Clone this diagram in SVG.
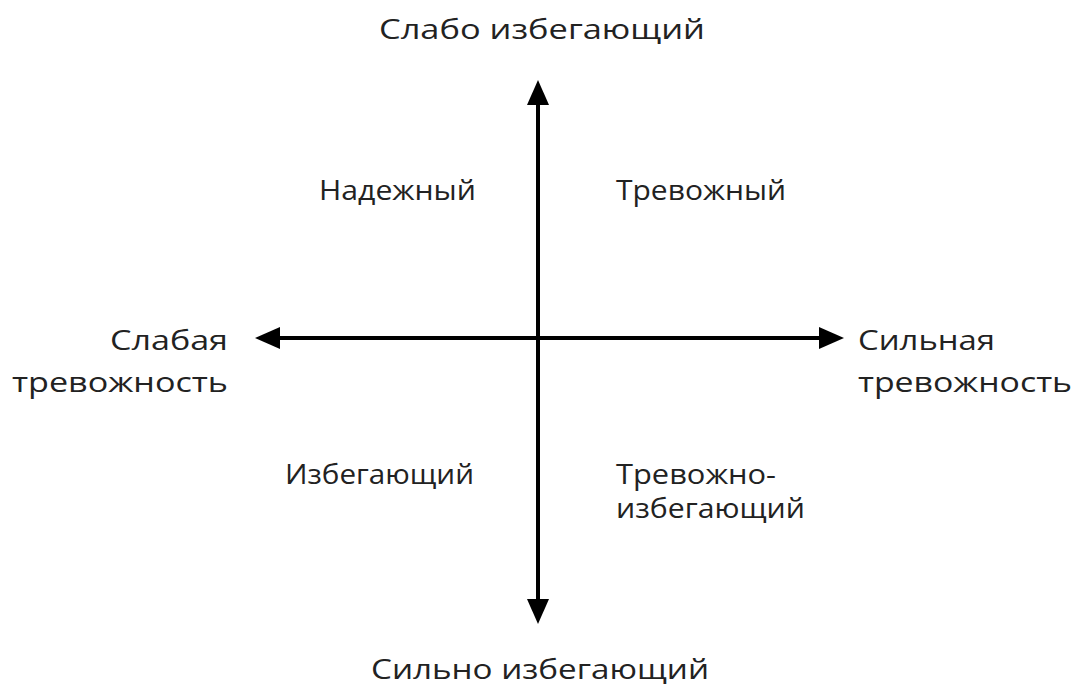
<svg xmlns="http://www.w3.org/2000/svg" width="1076" height="689" viewBox="0 0 1076 689">
<style>
.t{font-family:"Open Sans","Noto Sans","DejaVu Sans",sans-serif;font-size:28px;fill:#222;}
.ax{stroke:#000;stroke-width:4;fill:none;marker-start:url(#ah);marker-end:url(#ah);}
</style>
<defs>
<marker id="ah" markerUnits="userSpaceOnUse" markerWidth="25" markerHeight="22" refX="5" refY="11" orient="auto-start-reverse" viewBox="0 0 25 22">
<path d="M0,0 L25,11 L0,22 z" fill="#000"/>
</marker>
</defs>
<rect width="1076" height="689" fill="#fff"/>
<g id="connectors">
<line class="ax" x1="538" y1="100" x2="538" y2="604"/>
<line class="ax" x1="275" y1="338" x2="824" y2="338"/>
</g>
<g id="top"><text class="t" x="379" y="39" textLength="326" lengthAdjust="spacingAndGlyphs">Слабо избегающий</text></g>
<g id="bottom"><text class="t" x="371" y="679" textLength="338" lengthAdjust="spacingAndGlyphs">Сильно избегающий</text></g>
<g id="left">
<text class="t" x="110" y="350" textLength="118" lengthAdjust="spacingAndGlyphs">Слабая</text>
<text class="t" x="12" y="392" textLength="216" lengthAdjust="spacingAndGlyphs">тревожность</text>
</g>
<g id="right">
<text class="t" x="858" y="350" textLength="137" lengthAdjust="spacingAndGlyphs">Сильная</text>
<text class="t" x="858" y="392" textLength="214" lengthAdjust="spacingAndGlyphs">тревожность</text>
</g>
<g id="secure"><text class="t" x="319" y="200" textLength="157" lengthAdjust="spacingAndGlyphs">Надежный</text></g>
<g id="anxious"><text class="t" x="616" y="200" textLength="170" lengthAdjust="spacingAndGlyphs">Тревожный</text></g>
<g id="avoidant"><text class="t" x="285" y="484" textLength="189" lengthAdjust="spacingAndGlyphs">Избегающий</text></g>
<g id="anxious-avoidant">
<text class="t" x="616" y="484" textLength="160" lengthAdjust="spacingAndGlyphs">Тревожно-</text>
<text class="t" x="616" y="518" textLength="189" lengthAdjust="spacingAndGlyphs">избегающий</text>
</g>
</svg>
